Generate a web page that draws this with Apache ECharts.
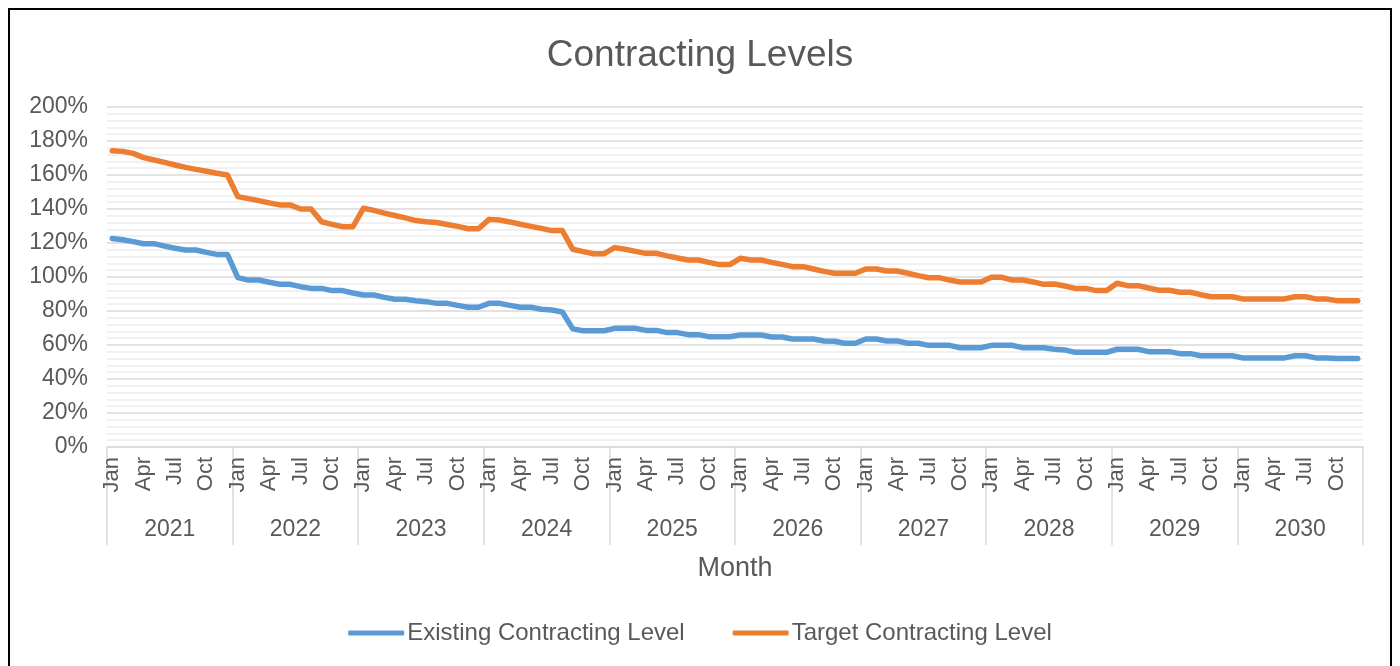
<!DOCTYPE html>
<html>
<head>
<meta charset="utf-8">
<script src="https://cdn.jsdelivr.net/npm/echarts@6/dist/echarts.min.js"></script>
<style>
html,body{margin:0;padding:0;background:#fff;}
#chart{width:1400px;height:666px;}
</style>
</head>
<body>
<div id="chart"></div>
<script>
const years = ['2021','2022','2023','2024','2025','2026','2027','2028','2029','2030'];
const monthNames = ['Jan','Feb','Mar','Apr','May','Jun','Jul','Aug','Sep','Oct','Nov','Dec'];
const yTicks = [0,20,40,60,80,100,120,140,160,180,200];

const existingLevel = [
  122.7,121.9,120.8,119.6,119.6,118.2,116.9,115.9,115.9,114.5,113.3,113.3,
  99.6,98.2,98.2,96.9,95.7,95.7,94.3,93.3,93.3,92.0,92.0,90.6,
  89.4,89.4,88.0,86.9,86.9,86.0,85.5,84.5,84.5,83.3,82.2,82.2,
  84.5,84.5,83.3,82.2,82.2,81.0,80.6,79.4,69.5,68.4,68.4,68.4,
  69.8,69.8,69.8,68.6,68.6,67.3,67.3,66.1,66.1,64.9,64.9,64.9,
  65.9,65.9,65.9,64.7,64.7,63.5,63.5,63.5,62.4,62.2,61.0,61.0,
  63.5,63.5,62.4,62.4,61.0,61.0,59.8,59.8,59.8,58.4,58.4,58.4,
  59.8,59.8,59.8,58.4,58.4,58.4,57.5,57.1,55.7,55.7,55.7,55.7,
  57.5,57.5,57.5,56.1,56.1,56.1,54.9,54.9,53.7,53.7,53.7,53.7,
  52.4,52.4,52.4,52.4,52.4,53.7,53.7,52.4,52.4,52.0,52.0,52.0
];
const targetLevel = [
  174.3,173.9,172.7,170.2,168.8,167.4,165.9,164.5,163.3,162.2,161.0,160.0,
  147.3,146.1,144.9,143.6,142.4,142.4,140.0,140.0,132.5,131.0,129.6,129.6,
  140.4,139.2,137.6,136.2,134.8,133.2,132.5,132.1,130.9,129.8,128.4,128.4,
  133.9,133.5,132.4,131.0,129.8,128.6,127.3,127.3,116.3,114.9,113.7,113.7,
  117.3,116.3,115.1,113.9,113.9,112.4,111.2,110.0,110.0,108.6,107.3,107.3,
  111.0,110.0,110.0,108.6,107.4,106.1,106.1,104.7,103.3,102.2,102.2,102.2,
  104.7,104.7,103.5,103.5,102.2,100.8,99.6,99.6,98.2,97.1,97.1,97.1,
  99.8,99.8,98.2,98.2,97.1,95.7,95.9,94.7,93.3,93.3,92.0,92.0,
  96.3,94.9,94.9,93.5,92.2,92.2,91.0,91.0,89.6,88.4,88.4,88.4,
  87.1,87.1,87.1,87.1,87.1,88.4,88.4,87.1,87.1,86.1,86.1,86.1
];

const months = [];
years.forEach(y => monthNames.forEach(m => months.push(m + ' ' + y)));

const FONT = '"Liberation Sans", Arial, sans-serif';
const TXT = '#595959';

const chart = echarts.init(document.getElementById('chart'), null, {renderer: 'canvas'});
chart.setOption({
  animation: false,
  backgroundColor: '#fff',
  textStyle: {fontFamily: FONT},
  title: {
    text: 'Contracting Levels',
    left: 'center',
    top: 32,
    textStyle: {fontFamily: FONT, fontSize: 37, fontWeight: 'normal', color: TXT}
  },
  legend: {
    bottom: 16,
    left: 'center',
    icon: 'roundRect',
    itemWidth: 56,
    itemHeight: 5,
    itemGap: 48,
    textStyle: {fontFamily: FONT, fontSize: 24, color: TXT, padding: [0,0,0,-2]},
    data: ['Existing Contracting Level', 'Target Contracting Level']
  },
  grid: {left: 107, right: 37, top: 107, bottom: 219, containLabel: false},
  xAxis: [
    {
      type: 'category',
      data: months,
      boundaryGap: true,
      axisLine: {show: true, lineStyle: {color: '#d9d9d9', width: 1.5}},
      axisTick: {show: false},
      axisLabel: {
        interval: 2,
        rotate: 90,
        margin: 10,
        fontFamily: FONT,
        fontSize: 22,
        color: TXT,
        formatter: v => v.split(' ')[0]
      },
      splitLine: {show: false}
    },
    {
      type: 'category',
      data: years,
      position: 'bottom',
      boundaryGap: true,
      axisLine: {show: false},
      axisTick: {show: true, length: 98, interval: 0, lineStyle: {color: '#d9d9d9', width: 1.5}},
      axisLabel: {interval: 0, margin: 71, fontFamily: FONT, fontSize: 23, color: TXT},
      name: 'Month',
      nameLocation: 'middle',
      nameGap: 108,
      nameTextStyle: {fontFamily: FONT, fontSize: 27, color: TXT}
    }
  ],
  yAxis: {
    type: 'value',
    min: 0,
    max: 200,
    interval: 20,
    axisLine: {show: false},
    axisTick: {show: false},
    axisLabel: {
      margin: 19,
      fontFamily: FONT,
      fontSize: 23,
      color: TXT,
      formatter: v => yTicks.includes(v) ? v + '%' : ''
    },
    splitLine: {show: true, lineStyle: {color: '#d9d9d9', width: 1.5}},
    minorTick: {show: false, splitNumber: 5},
    minorSplitLine: {show: true, lineStyle: {color: '#ededed', width: 1.5}}
  },
  series: [
    {
      name: 'Existing Contracting Level',
      type: 'line',
      xAxisIndex: 0,
      data: existingLevel,
      showSymbol: false,
      symbol: 'none',
      lineStyle: {color: '#5B9BD5', width: 5.5, cap: 'round', join: 'round'},
      itemStyle: {color: '#5B9BD5'}
    },
    {
      name: 'Target Contracting Level',
      type: 'line',
      xAxisIndex: 0,
      data: targetLevel,
      showSymbol: false,
      symbol: 'none',
      lineStyle: {color: '#ED7D31', width: 5.5, cap: 'round', join: 'round'},
      itemStyle: {color: '#ED7D31'}
    }
  ],
  graphic: [
    {
      type: 'rect',
      silent: true,
      shape: {x: 9, y: 9, width: 1382, height: 700},
      style: {fill: null, stroke: '#000', lineWidth: 2}
    }
  ]
});
</script>
</body>
</html>
